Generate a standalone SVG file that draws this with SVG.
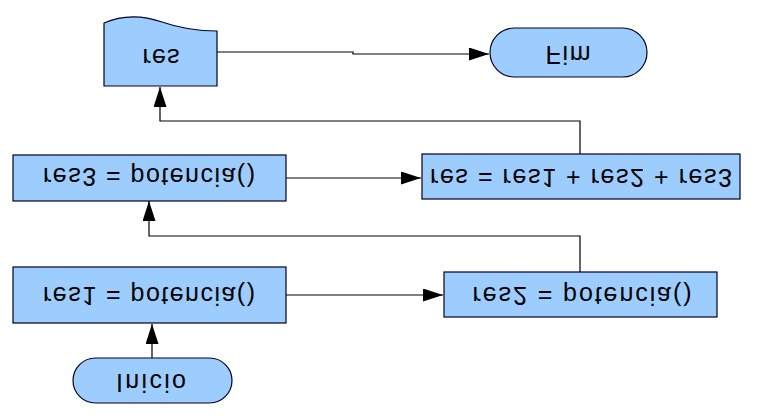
<svg xmlns="http://www.w3.org/2000/svg" width="757" height="419" viewBox="0 0 757 419">
  <style>
    .box { fill: #9dcdff; stroke: #000022; stroke-width: 1.2; }
    .lbl { font-family: "Liberation Sans", Arial, sans-serif; font-size: 25px; fill: #000000; text-anchor: middle; }
    .conn { fill: none; stroke: #000000; stroke-width: 1.2; marker-end: url(#arrow); }
  </style>
  <defs>
    <marker id="arrow" markerUnits="userSpaceOnUse" markerWidth="22" markerHeight="14" refX="20" refY="6.5" orient="auto">
      <path d="M0,0 L20,6.5 L0,13 Z" fill="#000000"/>
    </marker>
  </defs>
  <rect width="757" height="419" fill="#ffffff"/>

  <g id="connectors">
    <path class="conn" d="M152,358 L152,324"/>
    <path class="conn" d="M286,295 L443,295"/>
    <path class="conn" d="M580,272 L580,236 L149,236 L149,201"/>
    <path class="conn" d="M286,178 L421,178"/>
    <path class="conn" d="M580,154 L580,121 L160,121 L160,87"/>
    <path class="conn" d="M217,52 L353,52 L353,54 L489,54"/>
  </g>

  <g id="inicio">
    <rect class="box" x="73" y="358" width="159" height="45" rx="22.5"/>
    <text class="lbl" transform="translate(151,374) scale(1,-1)" textLength="70" lengthAdjust="spacing">Inicio</text>
  </g>

  <g id="res1">
    <rect class="box" x="13" y="267" width="273" height="56"/>
    <text class="lbl" transform="translate(149,287) scale(1,-1)" textLength="212" lengthAdjust="spacing">res1 = potencia()</text>
  </g>

  <g id="res2">
    <rect class="box" x="444" y="272" width="273" height="45"/>
    <text class="lbl" transform="translate(582,287) scale(1,-1)" textLength="219" lengthAdjust="spacing">res2 = potencia()</text>
  </g>

  <g id="res3">
    <rect class="box" x="13" y="155" width="273" height="46"/>
    <text class="lbl" transform="translate(149,168) scale(1,-1)" textLength="212" lengthAdjust="spacing">res3 = potencia()</text>
  </g>

  <g id="soma">
    <rect class="box" x="422" y="154" width="318" height="45"/>
    <text class="lbl" transform="translate(581,169) scale(1,-1)" textLength="302" lengthAdjust="spacing">res = res1 + res2 + res3</text>
  </g>

  <g id="res-doc">
    <path class="box" d="M104,86 L104,23 C122,15 142,15 162,22 C182,29 200,31 217,31 L217,86 Z"/>
    <text class="lbl" transform="translate(161,49) scale(1,-1)" textLength="37" lengthAdjust="spacing">res</text>
  </g>

  <g id="fim">
    <rect class="box" x="490" y="28" width="157" height="49" rx="24.5"/>
    <text class="lbl" transform="translate(568,46) scale(1,-1)" textLength="45" lengthAdjust="spacing">Fim</text>
  </g>
</svg>
